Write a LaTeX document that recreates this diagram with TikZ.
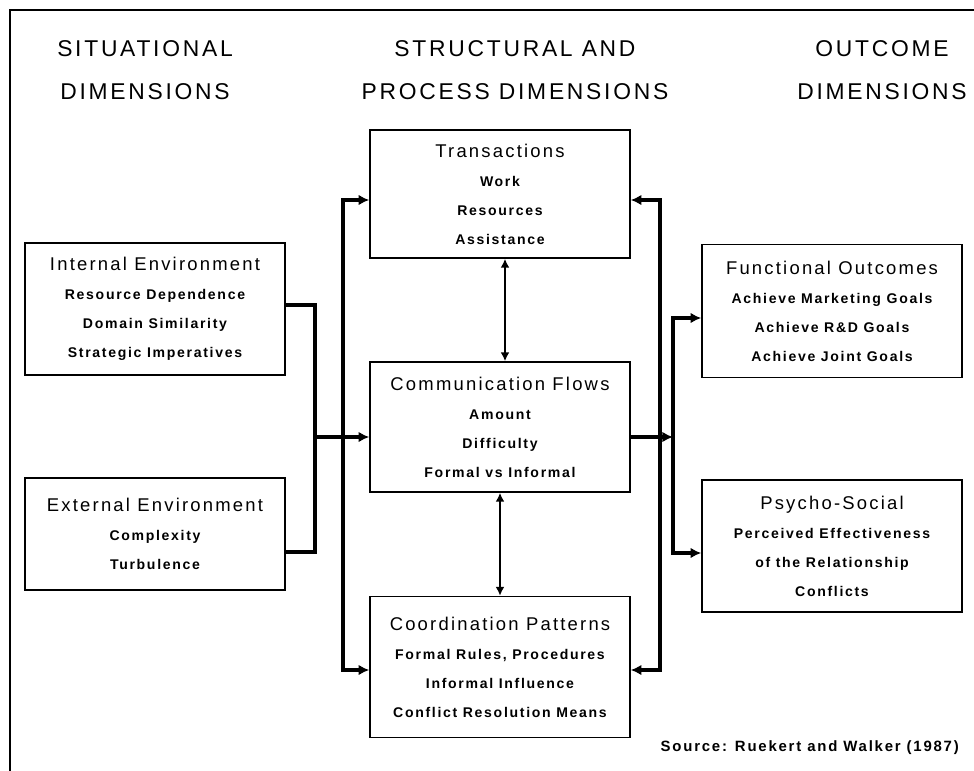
\documentclass[tikz,border=0pt]{standalone}
\usepackage{fontspec}
\setmainfont{Liberation Sans}
\newfontfamily\headfont[LetterSpace=12]{Liberation Sans}
\newfontfamily\boxfont[LetterSpace=12]{Liberation Sans}
\usetikzlibrary{arrows.meta}

\newcommand{\boxhead}[1]{{\fontsize{10.5}{16.5}\selectfont\mdseries #1}}

\begin{document}
\begin{tikzpicture}[x=0.02cm,y=-0.02cm,
  box/.style={draw,line width=0.9pt,inner sep=0pt,align=center,
    minimum width=5.2cm,font=\boxfont\bfseries\fontsize{8}{16.5}\selectfont},
  head/.style={align=center,font=\headfont\fontsize{13}{24.5}\selectfont},
  bus/.style={line width=2.2pt},
  tip/.style={-{Latex[length=6pt,width=6pt]}},
  tips/.style={{Latex[length=6pt,width=6pt]}-{Latex[length=6pt,width=6pt]}},
  link/.style={line width=1.6pt,{Latex[length=5pt,width=5pt]}-{Latex[length=5pt,width=5pt]}},
  frame/.style={line width=1.6pt}]

\useasboundingbox (0,0) rectangle (974,771);
\draw[frame] (10,771) -- (10,10) -- (974,10);

% column headings
\node[head] (sit) at (145,70) {SITUATIONAL\\DIMENSIONS};
\node[head] (str) at (515,70) {STRUCTURAL AND\\PROCESS DIMENSIONS};
\node[head] (out) at (882,70) {OUTCOME\\DIMENSIONS};

% situational
\node[box,minimum height=2.64cm] (intenv) at (155,309)
  {\boxhead{Internal Environment}\\Resource Dependence\\Domain Similarity\\Strategic Imperatives};
\node[box,minimum height=2.24cm] (extenv) at (155,534)
  {\boxhead{External Environment}\\Complexity\\Turbulence};

% structural and process
\node[box,minimum height=2.56cm] (trans) at (500,194)
  {\boxhead{Transactions}\\Work\\Resources\\Assistance};
\node[box,minimum height=2.6cm] (comm) at (500,427)
  {\boxhead{Communication Flows}\\Amount\\Difficulty\\Formal vs Informal};
\node[box,minimum height=2.82cm] (coord) at (500,667)
  {\boxhead{Coordination Patterns}\\Formal Rules, Procedures\\Informal Influence\\Conflict Resolution Means};

% outcomes
\node[box,minimum height=2.66cm] (funct) at (832,311)
  {\boxhead{Functional Outcomes}\\Achieve Marketing Goals\\Achieve R\&D Goals\\Achieve Joint Goals};
\node[box,minimum height=2.64cm] (psycho) at (832,546)
  {\boxhead{Psycho-Social}\\Perceived Effectiveness\\of the Relationship\\Conflicts};

\node[anchor=east,font=\boxfont\bfseries\fontsize{8.5}{10}\selectfont] (src) at (965,748)
  {Source: Ruekert and Walker (1987)};

\coordinate (ljoin) at (315,437);
\coordinate (lloop) at (343,437);
\coordinate (rloop) at (660,437);
\coordinate (rjoin) at (673,437);

\draw[bus] ([yshift=0.08cm]intenv.east) -| (ljoin);
\draw[bus] ([yshift=-0.36cm]extenv.east) -| (ljoin);
\draw[bus,tip] (ljoin) -- (comm.west |- ljoin);

\draw[bus,tips] ([yshift=-0.12cm]trans.west) -| (lloop) |- ([yshift=-0.06cm]coord.west);
\draw[bus,tips] ([yshift=-0.12cm]trans.east) -| (rloop) |- ([yshift=-0.06cm]coord.east);

\draw[bus,tip] (comm.east |- rjoin) -- (rjoin);
\draw[bus,tip] (rjoin) |- ([yshift=-0.14cm]funct.west);
\draw[bus,tip] (rjoin) |- ([yshift=-0.14cm]psycho.west);

\draw[link] ([xshift=0.1cm]trans.south) -- ([xshift=0.1cm]comm.north);
\draw[link,line width=1.1pt] (comm.south) -- (coord.north);

\end{tikzpicture}
\end{document}
